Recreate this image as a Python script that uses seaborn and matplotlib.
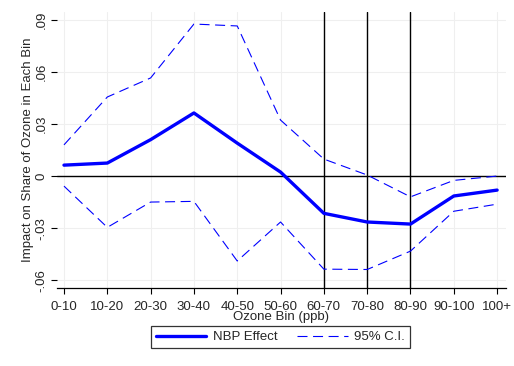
import pandas as pd
import matplotlib.pyplot as plt
import seaborn as sns

# --- Data ---
bins = ["0-10", "10-20", "20-30", "30-40", "40-50", "50-60",
        "60-70", "70-80", "80-90", "90-100", "100+"]
effect = [0.0063, 0.0075, 0.021, 0.0364, 0.019, 0.0023,
          -0.0215, -0.0265, -0.0277, -0.0115, -0.0081]
ci_upper = [0.018, 0.0456, 0.0566, 0.0877, 0.0866, 0.0323,
            0.0098, 0.0006, -0.012, -0.0025, 0.0]
ci_lower = [-0.0058, -0.0296, -0.015, -0.0146, -0.049, -0.0265,
            -0.0537, -0.0539, -0.0433, -0.0203, -0.0162]
yticks = [-0.06, -0.03, 0, 0.03, 0.06, 0.09]
ytick_labels = ["-.06", "-.03", "0", ".03", ".06", ".09"]
vlines_at = ["60-70", "70-80", "80-90"]

df = pd.DataFrame({"pos": range(len(bins)), "bin": bins, "effect": effect,
                   "upper": ci_upper, "lower": ci_lower})

sns.set_style("white")
plt.rcParams["font.family"] = ["Liberation Sans", "DejaVu Sans"]
plt.rcParams["font.size"] = 9.5

fig = plt.figure(figsize=(5.14, 3.66), dpi=100)
ax = fig.add_axes([0.111, 0.213, 0.873, 0.754])

blue = "#0000ff"
sns.lineplot(data=df, x="pos", y="effect", ax=ax, color=blue, lw=2.4,
             label="NBP Effect")
sns.lineplot(data=df, x="pos", y="upper", ax=ax, color=blue, lw=0.8,
             label="95% C.I.")
sns.lineplot(data=df, x="pos", y="lower", ax=ax, color=blue, lw=0.8,
             label="_nolegend_")
for ln in ax.lines[1:]:
    ln.set_dashes((9, 5))

# reference lines
ax.axhline(0, color="black", lw=1, zorder=1)
for b in vlines_at:
    ax.axvline(bins.index(b), color="black", lw=1, zorder=1)

ax.set_xlim(-0.16, 10.2)
ax.set_ylim(-0.0646, 0.0946)
ax.set_xticks(df["pos"])
ax.set_xticklabels(bins)
ax.set_yticks(yticks)
ax.set_yticklabels(ytick_labels, rotation=90, va="center")
ax.grid(True, color="#efefef", lw=0.8)
ax.set_axisbelow(True)

# Stata look: no left axis line, only ticks
for s in ["top", "right", "left"]:
    ax.spines[s].set_visible(False)
ax.spines["bottom"].set_color("black")
ax.spines["bottom"].set_linewidth(0.9)
ax.tick_params(axis="both", which="major", direction="out", length=4,
               width=0.8, color="black", left=True, bottom=True)
ax.tick_params(axis="x", pad=5)
ax.tick_params(axis="y", pad=3)

ax.set_xlabel("Ozone Bin (ppb)", labelpad=-1)
ax.set_ylabel("Impact on Share of Ozone in Each Bin", labelpad=1)

ax.get_legend().remove()
handles, labels = ax.get_legend_handles_labels()
leg = fig.legend(handles, labels, loc="lower center", ncol=2,
                 bbox_to_anchor=(0.546, 0.03), frameon=True, fancybox=False,
                 handlelength=3.8, handletextpad=0.5, columnspacing=1.5,
                 borderpad=0.4)
leg.get_frame().set_edgecolor("black")
leg.get_frame().set_linewidth(0.9)
leg.legend_handles[1].set_dashes((9, 5))

fig.savefig("out.png", dpi=100)
